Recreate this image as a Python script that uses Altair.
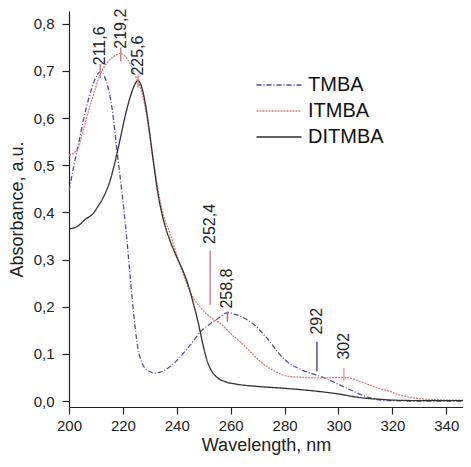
import altair as alt
import pandas as pd

# ---------------- data ----------------
series_names = ["TMBA", "ITMBA", "DITMBA"]
series_colors = ["#4d4f9e", "#d4807f", "#303030"]
series_dashes = [[5, 2, 1, 2], [2, 1], [1, 0]]

wl_tmba = [200, 201.5, 203.5, 205.5, 207.5, 209.5, 211.6, 213, 214.5, 216, 217.9, 219.5,
           221.4, 222.6, 224, 225.5, 227, 229, 232, 235, 238, 241, 244, 246.5, 248.6, 251,
           254.8, 258.8, 261.6, 265.3, 268, 270.2, 272, 274, 277.7, 280, 282.6, 285, 287.6,
           291.3, 296.2, 301.2, 305.5, 310, 313, 316, 320, 330, 340, 350]
abs_tmba = [0.446, 0.49, 0.544, 0.6, 0.645, 0.68, 0.698, 0.69, 0.665, 0.62, 0.526, 0.45,
            0.347, 0.27, 0.185, 0.115, 0.082, 0.066, 0.059, 0.064, 0.075, 0.092, 0.112, 0.13,
            0.146, 0.158, 0.173, 0.187, 0.184, 0.175, 0.165, 0.154, 0.143, 0.13, 0.102, 0.088,
            0.077, 0.07, 0.063, 0.056, 0.046, 0.032, 0.021, 0.01, 0.005, 0.002, 0.001, 0.0,
            0.0, 0.0]

wl_itmba = [200, 202, 203.5, 205, 207, 209, 211, 212.5, 214, 216, 218, 219.2, 220.5, 222,
            223.5, 225, 226.5, 228, 229.5, 231, 233, 235, 237.5, 240, 242, 244, 246, 248.6,
            251, 253.5, 256, 258, 260, 262, 265.3, 268, 270.2, 272.5, 275.2, 277.5, 280, 284,
            288, 292, 296, 300, 302, 304, 306, 308.8, 312, 315, 318.8, 322, 325, 328.7, 332,
            336, 340, 350]
abs_itmba = [0.522, 0.527, 0.537, 0.568, 0.61, 0.648, 0.684, 0.703, 0.716, 0.728, 0.735,
             0.737, 0.733, 0.722, 0.705, 0.685, 0.665, 0.63, 0.58, 0.52, 0.45, 0.395, 0.355,
             0.31, 0.275, 0.245, 0.22, 0.2, 0.185, 0.174, 0.165, 0.155, 0.143, 0.133, 0.116,
             0.1, 0.088, 0.077, 0.067, 0.06, 0.054, 0.051, 0.05, 0.049, 0.049, 0.05, 0.05,
             0.049, 0.046, 0.04, 0.033, 0.027, 0.021, 0.014, 0.01, 0.006, 0.004, 0.003, 0.002,
             0.002]

wl_ditmba = [200, 203, 206, 209, 211, 213, 215, 217, 219, 221, 223, 224.5, 225.6, 227, 228.5,
             230, 231.5, 233, 235, 237.5, 240, 242, 244, 246, 248, 249.5, 251, 253, 255, 258,
             262, 270, 280, 290, 300, 305, 310, 315, 320, 330, 350]
abs_ditmba = [0.365, 0.37, 0.385, 0.398, 0.415, 0.435, 0.463, 0.505, 0.556, 0.608, 0.65,
              0.672, 0.68, 0.665, 0.625, 0.565, 0.5, 0.44, 0.385, 0.34, 0.305, 0.28, 0.25,
              0.21, 0.165, 0.125, 0.09, 0.063, 0.05, 0.041, 0.036, 0.031, 0.027, 0.022, 0.015,
              0.01, 0.006, 0.004, 0.002, 0.001, 0.001]

# peak annotations
ann_wl = [211.6, 219.2, 225.6, 252.4, 258.8, 292, 302]
ann_text = ["211,6", "219,2", "225,6", "252,4", "258,8", "292", "302"]
ann_text_y = [0.712, 0.747, 0.69, 0.333, 0.196, 0.141, 0.088]
ann_line_y1 = [0.685, 0.72, 0.665, 0.204, 0.168, 0.063, 0.042]
ann_line_y2 = [0.715, 0.75, 0.69, 0.32, 0.19, 0.126, 0.07]
ann_line_color = ["#d4807f", "#d4807f", "#d4807f", "#c98a95", "#c0607a", "#4d4f9e", "#eaa8a8"]

x_ticks = list(range(200, 351, 10))
y_ticks = [round(i * 0.05, 2) for i in range(17)]

# ---------------- tables ----------------
rows = []
for name, wls, vals in [("TMBA", wl_tmba, abs_tmba), ("ITMBA", wl_itmba, abs_itmba),
                        ("DITMBA", wl_ditmba, abs_ditmba)]:
    for w, v in zip(wls, vals):
        rows.append({"series": name, "wl": w, "abs": v})
df = pd.DataFrame(rows)

ann = pd.DataFrame({"wl": ann_wl, "text": ann_text, "ty": ann_text_y,
                    "y1": ann_line_y1, "y2": ann_line_y2, "color": ann_line_color})

x_scale = alt.Scale(domain=[200, 346.2], nice=False, zero=False)
y_scale = alt.Scale(domain=[-0.0126, 0.827], nice=False, zero=False)

x_axis = alt.Axis(
    values=x_ticks,
    labelExpr="datum.value % 20 === 0 && datum.value < 350 ? datum.label : ''",
    tickSize={"condition": {"test": "datum.value % 20 === 0", "value": 7}, "value": 4},
    grid=False, labelFontSize=15, titleFontSize=18, labelPadding=4, titlePadding=3,
    labelFlush=False, title="Wavelength, nm", titleFontWeight="normal",
)
y_axis = alt.Axis(
    values=y_ticks,
    labelExpr="abs(datum.value*10 - round(datum.value*10)) < 0.001 ? replace(format(datum.value, '.1f'), '.', ',') : ''",
    tickSize={"condition": {"test": "abs(datum.value*10 - round(datum.value*10)) < 0.001", "value": 7}, "value": 4},
    grid=False, labelFontSize=15, titleFontSize=18, labelPadding=8, titlePadding=7,
    labelFlush=False, title="Absorbance, a.u.", titleFontWeight="normal",
)

lines = alt.Chart(df).mark_line(strokeWidth=1.3, interpolate="monotone", clip=True).encode(
    x=alt.X("wl:Q", scale=x_scale, axis=x_axis),
    y=alt.Y("abs:Q", scale=y_scale, axis=y_axis),
    color=alt.Color("series:N", scale=alt.Scale(domain=series_names, range=series_colors),
                    sort=series_names,
                    legend=alt.Legend(title=None, orient="none", legendX=200, legendY=64,
                                      symbolType="M-3,0H3", symbolSize=225,
                                      symbolStrokeWidth=1.5, labelFontSize=20,
                                      labelOffset=19, rowPadding=6, labelColor="#111")),
    strokeDash=alt.StrokeDash("series:N", scale=alt.Scale(domain=series_names, range=series_dashes),
                              sort=series_names, legend=None),
    detail="series:N",
)

rules = alt.Chart(ann).mark_rule(strokeWidth=1.5).encode(
    x=alt.X("wl:Q", scale=x_scale),
    y=alt.Y("y1:Q", scale=y_scale),
    y2="y2:Q",
    color=alt.Color("color:N", scale=None),
)

texts = alt.Chart(ann).mark_text(angle=270, align="left", baseline="middle",
                                 fontSize=16, color="#222").encode(
    x=alt.X("wl:Q", scale=x_scale),
    y=alt.Y("ty:Q", scale=y_scale),
    text="text:N",
)

chart = alt.layer(lines, rules, texts).properties(
    width=394, height=396,
    autosize=alt.AutoSizeParams(type="none"),
    padding={"left": 61, "top": 3, "right": 0, "bottom": 50},
).configure(font="Liberation Sans").configure_view(stroke=None).configure_axis(
    domainColor="#222", tickColor="#222", labelColor="#222", titleColor="#222",
    domainWidth=1.2, tickWidth=1.2,
)

chart.save("out.html", embed_options={"renderer": "svg", "actions": False})
